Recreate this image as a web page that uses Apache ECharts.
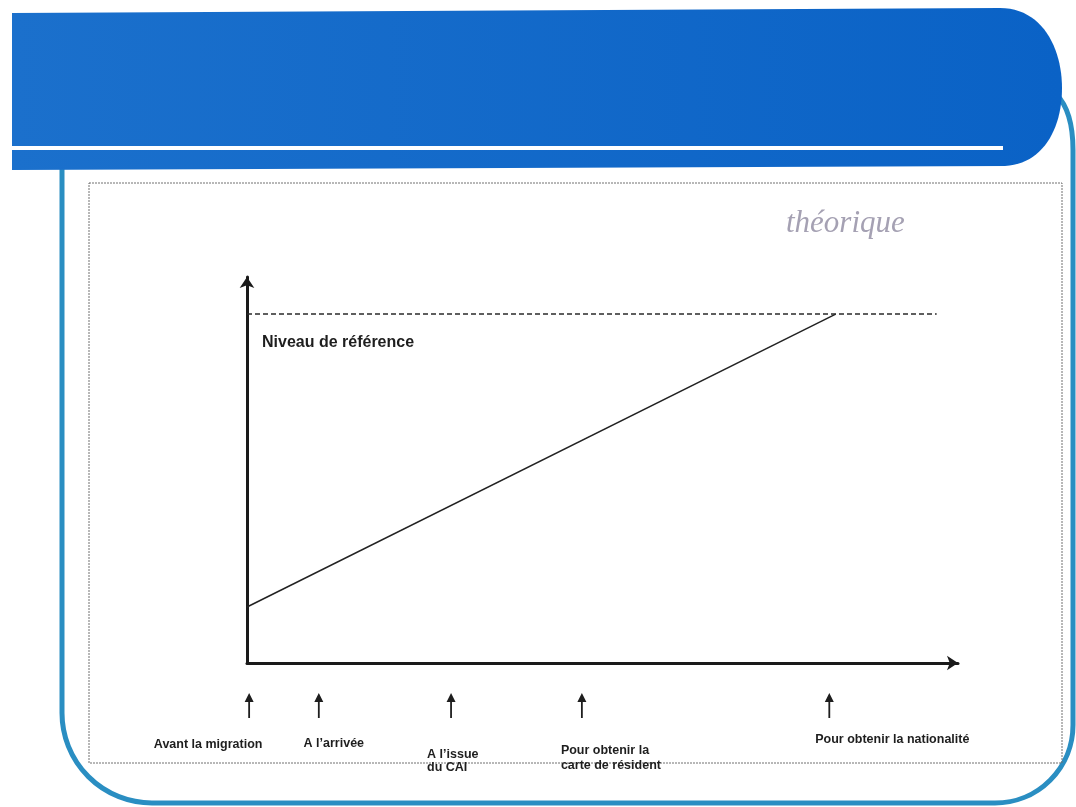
<!DOCTYPE html>
<html>
<head>
<meta charset="utf-8">
<script src="https://cdn.jsdelivr.net/npm/echarts@6/dist/echarts.min.js"></script>
<style>
  html, body { margin: 0; padding: 0; background: #ffffff; }
  #chart { width: 1076px; height: 807px; }
</style>
</head>
<body>
<div id="chart"></div>
<script>
// ---- data ----
const stages = ['Avant la migration', "A l\u2019arrivée", "A l\u2019issue\ndu CAI", 'Pour obtenir la\ncarte de résident', 'Pour obtenir la nationalité'];
const stagePositions = [0.3, 10.1, 28.7, 47.1, 81.9];
const progressX = [0, 82.8];
const progressY = [14.5, 90.4];
const referenceLevel = 90.4;
const referenceEndX = 97;
const referenceLabel = 'Niveau de référence';
const annotation = 'théorique';

// ---- layout / style (not data) ----
const labelLayout = [
  { offset: [-41, 39.5], align: 'center', lineHeight: 14 },
  { offset: [15, 38.5], align: 'center', lineHeight: 14 },
  { offset: [-24, 56], align: 'left', lineHeight: 13 },
  { offset: [-21, 53], align: 'left', lineHeight: 15 },
  { offset: [63, 34.5], align: 'center', lineHeight: 14 }
];

function bezierPoints(p0, p1, p2, p3, n) {
  const pts = [];
  for (let i = 0; i <= n; i++) {
    const t = i / n, u = 1 - t;
    pts.push([
      u*u*u*p0[0] + 3*u*u*t*p1[0] + 3*u*t*t*p2[0] + t*t*t*p3[0],
      u*u*u*p0[1] + 3*u*u*t*p1[1] + 3*u*t*t*p2[1] + t*t*t*p3[1]
    ]);
  }
  return pts;
}

const bandPoints = [[12, 13]]
  .concat(bezierPoints([1000, 8], [1042, 8], [1062, 48], [1062, 88], 24))
  .concat(bezierPoints([1062, 88], [1062, 130], [1042, 164], [1005, 166], 24))
  .concat([[12, 170]]);

const axisLineStyle = {
  show: true,
  onZero: false,
  lineStyle: { color: '#1a1a1a', width: 3 },
  symbol: ['none', 'arrow'],
  symbolSize: [11, 11]
};

const teal = { stroke: '#2a8ec2', lineWidth: 5, fill: 'none' };

const chart = echarts.init(document.getElementById('chart'), null, { renderer: 'canvas' });

const option = {
  animation: false,
  backgroundColor: '#ffffff',
  grid: [
    { left: 247, right: 118, top: 277, bottom: 144 },
    { left: 247, right: 118, top: 693, height: 25 }
  ],
  xAxis: [
    { type: 'value', min: 0, max: 100, axisLine: axisLineStyle, axisTick: { show: false }, axisLabel: { show: false }, splitLine: { show: false } },
    { type: 'value', gridIndex: 1, min: 0, max: 100, show: false }
  ],
  yAxis: [
    { type: 'value', min: 0, max: 100, axisLine: axisLineStyle, axisTick: { show: false }, axisLabel: { show: false }, splitLine: { show: false } },
    { type: 'value', gridIndex: 1, min: 0, max: 1, show: false }
  ],
  graphic: [
    // teal frame
    { type: 'line', z: 1, shape: { x1: 62, y1: 168, x2: 62, y2: 713 }, style: teal },
    { type: 'arc', z: 1, shape: { cx: 152, cy: 713, r: 90, startAngle: Math.PI / 2, endAngle: Math.PI }, style: teal },
    { type: 'line', z: 1, shape: { x1: 152, y1: 803, x2: 995, y2: 803 }, style: teal },
    { type: 'arc', z: 1, shape: { cx: 995, cy: 725, r: 78, startAngle: 0, endAngle: Math.PI / 2 }, style: teal },
    { type: 'line', z: 1, shape: { x1: 1073, y1: 725, x2: 1073, y2: 150 }, style: teal },
    { type: 'bezierCurve', z: 1, shape: { x1: 1073, y1: 150, cpx1: 1073, cpy1: 122, cpx2: 1066, cpy2: 104, x2: 1056, y2: 94 }, style: teal },
    // blue header band
    {
      type: 'polygon', z: 2,
      shape: { points: bandPoints },
      style: {
        fill: new echarts.graphic.LinearGradient(0, 0, 1, 0, [
          { offset: 0, color: '#1b70cc' },
          { offset: 1, color: '#0a62c6' }
        ])
      }
    },
    { type: 'rect', z: 3, shape: { x: 12, y: 146, width: 991, height: 4 }, style: { fill: '#ffffff' } },
    // dotted box
    {
      type: 'rect', z: 1,
      shape: { x: 89, y: 183, width: 973, height: 580 },
      style: { fill: 'none', stroke: '#707070', lineWidth: 1, lineDash: [2, 1] }
    },
    // handwritten note
    {
      type: 'text', z: 3, left: 786, top: 208,
      style: { text: annotation, fill: '#a5a1b3', font: 'italic 31px "Liberation Serif"' }
    },
    // reference label
    {
      type: 'text', z: 3, left: 262, top: 335,
      style: { text: referenceLabel, fill: '#1e1e1e', font: 'bold 16px "Liberation Sans", Arial' }
    }
  ],
  series: [
    {
      type: 'line', name: 'progression',
      xAxisIndex: 0, yAxisIndex: 0,
      data: progressX.map((x, i) => [x, progressY[i]]),
      symbol: 'none',
      lineStyle: { color: '#222222', width: 1.5 }
    },
    {
      type: 'line', name: 'référence',
      xAxisIndex: 0, yAxisIndex: 0,
      data: [[0, referenceLevel], [referenceEndX, referenceLevel]],
      symbol: 'none',
      lineStyle: { color: '#2a2a2a', width: 1.6, type: [5, 3] }
    },
    {
      type: 'scatter', name: 'étapes',
      xAxisIndex: 1, yAxisIndex: 1,
      symbol: 'path://M5,0 L10,9 L6,9 L6,25 L4,25 L4,9 L0,9 Z',
      symbolSize: [9, 25],
      itemStyle: { color: '#1e1e1e', opacity: 1 },
      data: stages.map((name, i) => ({
        name: name,
        value: [stagePositions[i], 0.5],
        label: {
          show: true,
          position: 'inside',
          formatter: '{b}',
          offset: labelLayout[i].offset,
          align: labelLayout[i].align,
          verticalAlign: 'middle',
          lineHeight: labelLayout[i].lineHeight,
          color: '#1e1e1e',
          fontFamily: '"Liberation Sans", Arial',
          fontWeight: 'bold',
          fontSize: 12.5
        }
      }))
    }
  ]
};

chart.setOption(option);
</script>
</body>
</html>
